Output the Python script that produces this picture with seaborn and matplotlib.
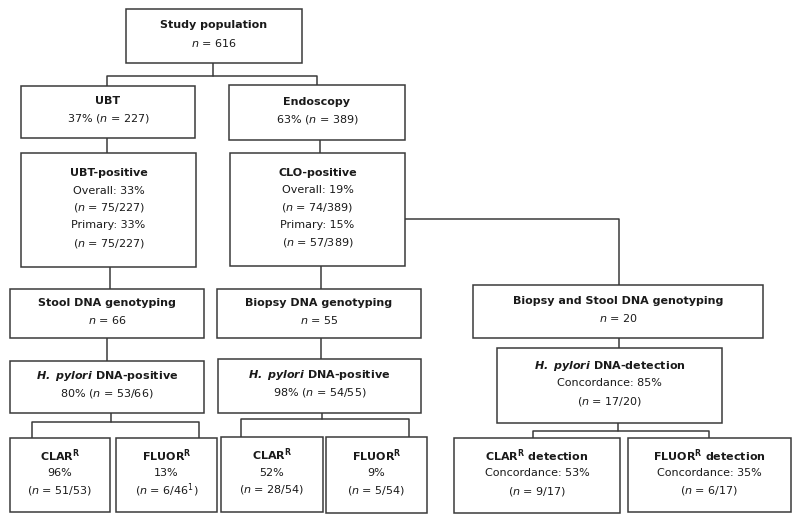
import matplotlib
matplotlib.use("Agg")
import matplotlib.pyplot as plt
from matplotlib.patches import Rectangle
import seaborn as sns

sns.set_theme(style="white")
plt.rcParams["font.family"] = ["DejaVu Sans"]
plt.rcParams["mathtext.fontset"] = "custom"
plt.rcParams["mathtext.rm"] = "DejaVu Sans"
plt.rcParams["mathtext.it"] = "DejaVu Sans:italic"
plt.rcParams["mathtext.bf"] = "DejaVu Sans:bold"
plt.rcParams["mathtext.bfit"] = "DejaVu Sans:italic:bold"

N = r"$\mathit{n}$"
HP = r"$\mathbfit{H.\ pylori}$"
SUPR = r"$^{\mathbf{R}}$"

# ---- box texts: (title, body lines) ----
study_title = "Study population"
study_lines = [f"{N} = 616"]
ubt_title = "UBT"
ubt_lines = [f"37% ({N} = 227)"]
endo_title = "Endoscopy"
endo_lines = [f"63% ({N} = 389)"]
ubtpos_title = "UBT-positive"
ubtpos_lines = ["Overall: 33%", f"({N} = 75/227)", "Primary: 33%", f"({N} = 75/227)"]
clo_title = "CLO-positive"
clo_lines = ["Overall: 19%", f"({N} = 74/389)", "Primary: 15%", f"({N} = 57/389)"]
stool_title = "Stool DNA genotyping"
stool_lines = [f"{N} = 66"]
biopsy_title = "Biopsy DNA genotyping"
biopsy_lines = [f"{N} = 55"]
both_title = "Biopsy and Stool DNA genotyping"
both_lines = [f"{N} = 20"]
hp1_title = f"{HP} DNA-positive"
hp1_lines = [f"80% ({N} = 53/66)"]
hp2_title = f"{HP} DNA-positive"
hp2_lines = [f"98% ({N} = 54/55)"]
hp3_title = f"{HP} DNA-detection"
hp3_lines = ["Concordance: 85%", f"({N} = 17/20)"]
clar1_title = f"CLAR{SUPR}"
clar1_lines = ["96%", f"({N} = 51/53)"]
fluor1_title = f"FLUOR{SUPR}"
fluor1_lines = ["13%", f"({N} = 6/46$^{{1}}$)"]
clar2_title = f"CLAR{SUPR}"
clar2_lines = ["52%", f"({N} = 28/54)"]
fluor2_title = f"FLUOR{SUPR}"
fluor2_lines = ["9%", f"({N} = 5/54)"]
clar3_title = f"CLAR{SUPR} detection"
clar3_lines = ["Concordance: 53%", f"({N} = 9/17)"]
fluor3_title = f"FLUOR{SUPR} detection"
fluor3_lines = ["Concordance: 35%", f"({N} = 6/17)"]

# ---- layout (pixel coordinates: x0, y0, x1, y1) ----
boxes = [
    ((126, 9, 302, 63), study_title, study_lines),
    ((21, 86, 195, 138), ubt_title, ubt_lines),
    ((229, 85, 405, 140), endo_title, endo_lines),
    ((21, 153, 196, 267), ubtpos_title, ubtpos_lines),
    ((230, 153, 405, 266), clo_title, clo_lines),
    ((10, 289, 204, 338), stool_title, stool_lines),
    ((217, 289, 421, 338), biopsy_title, biopsy_lines),
    ((473, 285, 763, 338), both_title, both_lines),
    ((10, 361, 204, 413), hp1_title, hp1_lines),
    ((218, 359, 421, 413), hp2_title, hp2_lines),
    ((497, 348, 722, 423), hp3_title, hp3_lines),
    ((10, 438, 110, 512), clar1_title, clar1_lines),
    ((116, 438, 217, 512), fluor1_title, fluor1_lines),
    ((221, 437, 323, 512), clar2_title, clar2_lines),
    ((326, 437, 427, 513), fluor2_title, fluor2_lines),
    ((454, 438, 620, 513), clar3_title, clar3_lines),
    ((628, 438, 791, 512), fluor3_title, fluor3_lines),
]

connectors = [
    [(213, 63), (213, 76)],
    [(107, 86), (107, 76), (317, 76), (317, 85)],
    [(107, 138), (107, 153)],
    [(320, 140), (320, 153)],
    [(110, 267), (110, 289)],
    [(321, 266), (321, 289)],
    [(405, 219), (619, 219), (619, 285)],
    [(107, 338), (107, 361)],
    [(321, 338), (321, 359)],
    [(111, 413), (111, 422)],
    [(32, 438), (32, 422), (199, 422), (199, 438)],
    [(322, 413), (322, 419)],
    [(241, 437), (241, 419), (409, 419), (409, 437)],
    [(619, 338), (619, 348)],
    [(618, 423), (618, 431)],
    [(533, 438), (533, 431), (709, 431), (709, 438)],
]

W, H = 800, 522
fig = plt.figure(figsize=(W / 100, H / 100), dpi=100)
ax = fig.add_axes([0, 0, 1, 1])
ax.set_xlim(0, W)
ax.set_ylim(H, 0)
ax.axis("off")

edge = "#3a3a3a"
lw = 1.1
fs = 8
spacing = 17.5

for (x0, y0, x1, y1), title, lines in boxes:
    ax.add_patch(Rectangle((x0, y0), x1 - x0, y1 - y0, facecolor="white",
                           edgecolor=edge, linewidth=lw, zorder=2))
    all_lines = [(title, "bold")] + [(l, "normal") for l in lines]
    n = len(all_lines)
    cx = (x0 + x1) / 2
    cy = (y0 + y1) / 2 - 2
    for i, (txt, wt) in enumerate(all_lines):
        yy = cy + (i - (n - 1) / 2) * spacing
        ax.text(cx, yy, txt, ha="center", va="center", fontsize=fs,
                fontweight=wt, color="#1a1a1a", zorder=3)

for pts in connectors:
    xs = [p[0] for p in pts]
    ys = [p[1] for p in pts]
    sns.lineplot(x=xs, y=ys, sort=False, estimator=None, color=edge,
                 linewidth=lw, ax=ax, zorder=1)

fig.savefig("out.png", dpi=100, facecolor="white")
